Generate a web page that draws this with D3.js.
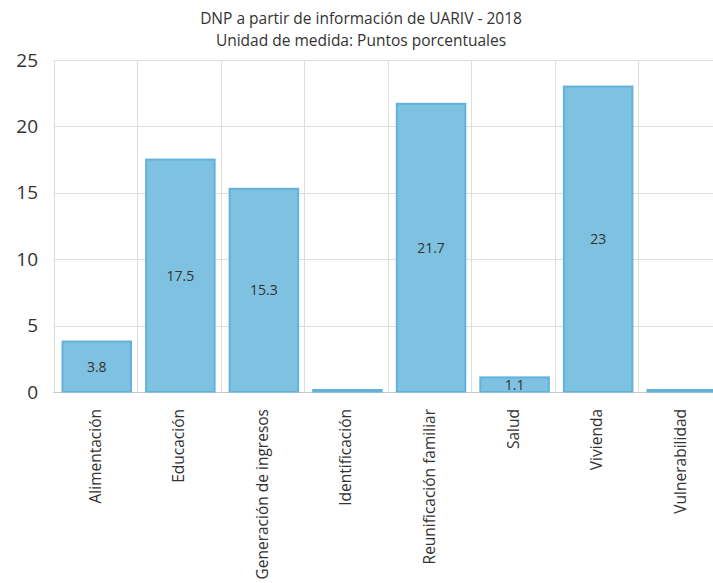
<!DOCTYPE html>
<html>
<head>
<meta charset="utf-8">
<script src="https://cdn.jsdelivr.net/npm/d3@7"></script>
<style>
  html, body { margin: 0; padding: 0; background: #fff; }
  svg { display: block; font-family: "Open Sans", "Noto Sans", sans-serif; }
</style>
</head>
<body>
<svg id="chart" width="713" height="583"></svg>
<script>
const categories = ["Alimentación", "Educación", "Generación de ingresos", "Identificación",
  "Reunificación familiar", "Salud", "Vivienda", "Vulnerabilidad"];
const values = [3.8, 17.5, 15.3, 0, 21.7, 1.1, 23, 0];
const yTicks = [0, 5, 10, 15, 20, 25];
const subtitles = ["DNP a partir de información de UARIV - 2018", "Unidad de medida: Puntos porcentuales"];

(function () {
const svg = d3.select("#chart");
const W = 713, H = 583;
const pLeft = 53.5, pRight = 722, pTop = 60, pBottom = 392;

svg.append("rect").attr("width", W).attr("height", H).attr("fill", "#fff");

const x = d3.scaleBand().domain(categories).range([pLeft, pRight]).paddingInner(0).paddingOuter(0);
const y = d3.scaleLinear().domain([0, 25]).range([pBottom, pTop]);

const rows = categories.map((c, i) => ({ cat: c, value: values[i] }));

// subtitles
svg.selectAll("text.sub").data(subtitles).enter().append("text")
  .attr("class", "sub")
  .attr("x", 361).attr("y", (d, i) => 24 + i * 22)
  .attr("text-anchor", "middle").attr("font-size", 15.5).attr("fill", "#333")
  .text(d => d);

// horizontal grid
svg.append("g").selectAll("line").data(yTicks).enter().append("line")
  .attr("x1", pLeft).attr("x2", W)
  .attr("y1", d => Math.round(y(d)) + 0.5).attr("y2", d => Math.round(y(d)) + 0.5)
  .attr("stroke", d => d === 0 ? "#c8c8c8" : "#dedede").attr("stroke-width", 1);

// vertical grid at category boundaries
svg.append("g").selectAll("line").data(categories).enter().append("line")
  .attr("x1", d => Math.round(x(d)) + 0.5).attr("x2", d => Math.round(x(d)) + 0.5)
  .attr("y1", pTop).attr("y2", pBottom)
  .attr("stroke", "#dedede").attr("stroke-width", 1);

// y axis labels
const yAxis = d3.axisLeft(y).tickValues(yTicks).tickSize(0).tickPadding(0);
const gy = svg.append("g").attr("transform", "translate(38,0)").call(yAxis);
gy.select(".domain").remove();
gy.selectAll("text").attr("font-size", 19).attr("fill", "#333")
  .attr("font-family", "'Open Sans', 'Noto Sans', sans-serif");

// bars
const bw = x.bandwidth();
svg.append("clipPath").attr("id", "plotclip").append("rect")
  .attr("x", pLeft).attr("y", 0).attr("width", W - pLeft).attr("height", pBottom + 0.5);

const barsG = svg.append("g").attr("clip-path", "url(#plotclip)");
barsG.selectAll("rect.bar").data(rows).enter().append("rect")
  .attr("class", "bar")
  .attr("x", d => x(d.cat) + bw * 0.108)
  .attr("width", bw * 0.82)
  .attr("y", d => Math.min(y(d.value), pBottom - 2))
  .attr("height", d => Math.max(pBottom - y(d.value), 2))
  .attr("fill", "#7fc1e0")
  .attr("stroke", "#62b2dc").attr("stroke-width", 2);

barsG.selectAll("text.val").data(rows.filter(d => d.value > 0)).enter().append("text")
  .attr("class", "val")
  .attr("x", d => x(d.cat) + bw * 0.108 + bw * 0.41)
  .attr("y", d => (y(d.value) + pBottom) / 2)
  .attr("dy", "0.35em")
  .attr("text-anchor", "middle").attr("font-size", 14).attr("fill", "#333")
  .text(d => d.value);

// x axis labels
const xAxis = d3.axisBottom(x).tickSize(0).tickPadding(0);
const gx = svg.append("g").attr("transform", `translate(0,${pBottom})`).call(xAxis);
gx.select(".domain").remove();
gx.selectAll("text")
  .attr("font-size", 15.5).attr("fill", "#333")
  .attr("font-family", "'Open Sans', 'Noto Sans', sans-serif")
  .attr("text-anchor", "end")
  .attr("transform", "translate(0,17) rotate(-90)")
  .attr("x", 0).attr("y", 0).attr("dy", "0.35em");
})();
</script>
</body>
</html>
